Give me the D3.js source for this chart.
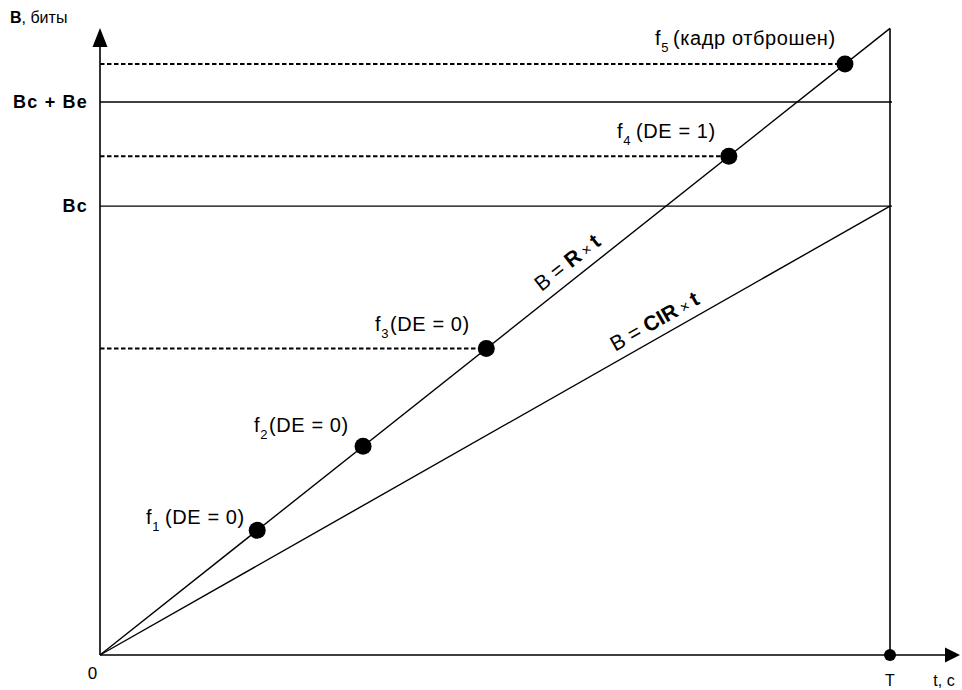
<!DOCTYPE html>
<html><head><meta charset="utf-8">
<script src="https://cdn.jsdelivr.net/npm/d3@7/dist/d3.min.js"></script>
<style>
html,body{margin:0;padding:0;background:#fff;}
svg{display:block;font-family:"Liberation Sans",Arial,sans-serif;}
</style></head>
<body><svg id="c" width="962" height="690"></svg>
<script>
// ---- data ----
const T = 10;                    // interval length (t units)
const Bc = 100;                  // committed burst
const Be = 23.2;                 // excess burst
const R = 13.96;                 // access rate (slope of B = R*t)
const CIR = Bc / T;              // committed rate
const frameNames = ["f1", "f2", "f3", "f4", "f5"];
const frameSubs = ["1", "2", "3", "4", "5"];
const frameTexts = ["(DE = 0)", "(DE = 0)", "(DE = 0)", "(DE = 1)", "(кадр отброшен)"];
const frameT = [1.99, 3.33, 4.89, 7.96, 9.43];
const frameDashed = [false, false, true, true, true];
const yTickValues = [Bc, Bc + Be];
const yTickLabels = ["Bc", "Bc + Be"];

// ---- scales ----
const x = d3.scaleLinear().domain([0, T]).range([100, 890]);
const y = d3.scaleLinear().domain([0, 140]).range([655, 26.6]);

const svg = d3.select("#c");
const g = svg.append("g");

// horizontal reference lines
g.selectAll("line.href").data(yTickValues).enter().append("line")
  .attr("x1", x(0)).attr("x2", x(T) + 2)
  .attr("y1", d => y(d)).attr("y2", d => y(d))
  .attr("stroke", "#000").attr("stroke-width", 1.4);

// vertical line at T
g.append("line").attr("x1", x(T)).attr("x2", x(T))
  .attr("y1", y(0)).attr("y2", y(R * T))
  .attr("stroke", "#000").attr("stroke-width", 1.6);

// B = R*t and B = CIR*t
const line = d3.line().x(d => x(d[0])).y(d => y(d[1]));
g.append("path").attr("d", line([[0, 0], [T, R * T]]))
  .attr("fill", "none").attr("stroke", "#000").attr("stroke-width", 1.4);
g.append("path").attr("d", line([[0, 0], [T, CIR * T]]))
  .attr("fill", "none").attr("stroke", "#000").attr("stroke-width", 1.4);

// dashed levels for frames
const frames = frameT.map((t, i) => ({t, b: R * t, name: frameNames[i], sub: frameSubs[i], txt: frameTexts[i], dashed: frameDashed[i]}));
g.selectAll("line.dash").data(frames.filter(d => d.dashed)).enter().append("line")
  .attr("x1", x(0)).attr("x2", d => x(d.t))
  .attr("y1", d => y(d.b)).attr("y2", d => y(d.b))
  .attr("stroke", "#000").attr("stroke-width", 2).attr("stroke-dasharray", "4.5,2.5");

// axes (with arrows)
g.append("line").attr("x1", x(0)).attr("x2", x(0)).attr("y1", y(0)).attr("y2", 40)
  .attr("stroke", "#000").attr("stroke-width", 1.6);
g.append("path").attr("d", `M${x(0)},28 L${x(0) - 7.5},47 L${x(0) + 7.5},47 Z`).attr("fill", "#000");
g.append("line").attr("x1", x(0)).attr("x2", 950).attr("y1", y(0)).attr("y2", y(0))
  .attr("stroke", "#000").attr("stroke-width", 1.6);
g.append("path").attr("d", `M960,${y(0)} L945,${y(0) - 7.5} L945,${y(0) + 7.5} Z`).attr("fill", "#000");

// y tick labels via d3 axis
const yAxis = d3.axisLeft(y).tickValues(yTickValues)
  .tickFormat((d, i) => yTickLabels[i]).tickSize(0).tickPadding(12);
const ya = g.append("g").attr("transform", `translate(${x(0)},0)`).call(yAxis);
ya.select(".domain").remove();
ya.selectAll("text").attr("font-size", 18).attr("font-weight", "bold")
  .attr("letter-spacing", 1.2)
  .attr("font-family", "Liberation Sans, Arial, sans-serif").attr("fill", "#000");

// axis titles
const yt = svg.append("text").attr("x", 10).attr("y", 23).attr("font-size", 16).attr("fill", "#000");
yt.append("tspan").attr("font-weight", "bold").text("B");
yt.append("tspan").text(", биты");
svg.append("text").attr("x", 92.5).attr("y", 679).attr("text-anchor", "middle").attr("font-size", 17).text("0");
svg.append("text").attr("x", x(T)).attr("y", 686).attr("text-anchor", "middle").attr("font-size", 16).text("T");
svg.append("text").attr("x", 944).attr("y", 686).attr("text-anchor", "middle").attr("font-size", 16).text("t, c");

// T point on x axis
svg.append("circle").attr("cx", x(T)).attr("cy", y(0)).attr("r", 6).attr("fill", "#000");

// frame dots
g.selectAll("circle.f").data(frames).enter().append("circle")
  .attr("cx", d => x(d.t)).attr("cy", d => y(d.b)).attr("r", 8.5).attr("fill", "#000");

// frame labels
const labelPos = [[146, 524], [254, 432], [375, 331], [617, 138], [655, 45]];
const labelGap = [5, 1, 1, 5, 4];
frames.forEach((d, i) => {
  const t = svg.append("text").attr("x", labelPos[i][0]).attr("y", labelPos[i][1])
    .attr("font-size", 20).attr("letter-spacing", 0.6).attr("fill", "#000");
  t.append("tspan").text("f");
  t.append("tspan").attr("font-size", 13).attr("dy", 7).text(d.sub);
  t.append("tspan").attr("dy", -7).attr("dx", labelGap[i]).text(d.txt);
});

// rotated formulas
function formula(tt, slope, parts, off) {
  const px = x(tt), py = y(slope * tt);
  const ang = Math.atan2(y(0) - y(slope), x(1) - x(0)) * 180 / Math.PI;
  const t = svg.append("text").attr("transform", `translate(${px},${py}) rotate(${-ang})`)
    .attr("y", off).attr("text-anchor", "middle").attr("font-size", 21).attr("fill", "#000");
  parts.forEach(p => t.append("tspan").attr("font-weight", p[1] ? "bold" : "normal")
    .attr("font-size", p[2] || 21).text(p[0]));
}
formula(6.05, R, [["B = ", false], ["R", true], [" × ", false, 15], ["t", true]], -10);
formula(7.12, CIR, [["B = ", false], ["CIR", true], [" × ", false, 15], ["t", true]], -9);
</script></body></html>
